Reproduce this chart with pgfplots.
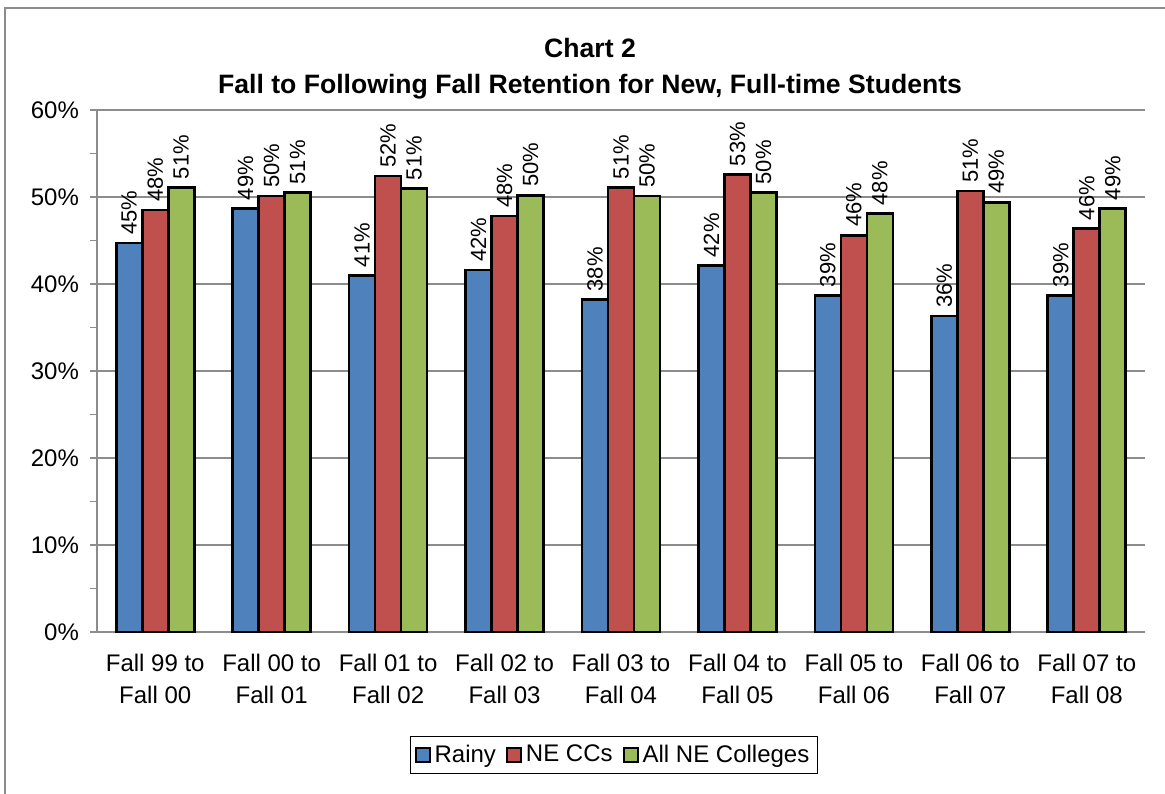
\documentclass[border=0pt]{standalone}
\usepackage{fontspec}
\setmainfont{Liberation Sans}
\usepackage{pgfplots}
\pgfplotsset{compat=1.18}
\usepackage{pgfplotstable}
\definecolor{rblue}{RGB}{79,129,189}
\definecolor{rred}{RGB}{192,80,77}
\definecolor{rgreen}{RGB}{155,187,89}
\definecolor{gridgray}{RGB}{140,140,140}

% x = category index, y = retention (%), lab = printed label
\pgfplotstableread{
x  y     lab
0  44.7  45\%
1  48.7  49\%
2  41.0  41\%
3  41.6  42\%
4  38.2  38\%
5  42.1  42\%
6  38.7  39\%
7  36.3  36\%
8  38.7  39\%
}\rainy
\pgfplotstableread{
x  y     lab
0  48.5  48\%
1  50.1  50\%
2  52.4  52\%
3  47.8  48\%
4  51.1  51\%
5  52.6  53\%
6  45.6  46\%
7  50.7  51\%
8  46.4  46\%
}\neccs
\pgfplotstableread{
x  y     lab
0  51.1  51\%
1  50.5  51\%
2  51.0  51\%
3  50.2  50\%
4  50.1  50\%
5  50.5  50\%
6  48.1  48\%
7  49.4  49\%
8  48.7  49\%
}\allne

\begin{document}
\begin{tikzpicture}
\useasboundingbox (-48.5pt,-80.5pt) rectangle (534pt,316pt);
\draw[gridgray, line width=0.8pt] (-46pt,-95pt) -- (-46pt,312pt) -- (545pt,312pt);
\begin{axis}[
  at={(0pt,0pt)}, anchor=south west,
  scale only axis, width=524pt, height=261pt,
  ybar=0pt, bar width=13pt,
  xmin=-0.5, xmax=8.5, ymin=0, ymax=60,
  axis x line*=bottom, axis y line*=left,
  axis line style={gridgray, line width=0.6pt},
  xtick={0,...,8},
  xticklabels={Fall 99 to\\Fall 00, Fall 00 to\\Fall 01, Fall 01 to\\Fall 02,
    Fall 02 to\\Fall 03, Fall 03 to\\Fall 04, Fall 04 to\\Fall 05,
    Fall 05 to\\Fall 06, Fall 06 to\\Fall 07, Fall 07 to\\Fall 08},
  x tick label style={align=center, font=\fontsize{12}{16}\selectfont, yshift=-4pt},
  major x tick style={draw=none},
  extra x ticks={-0.5,0.5,...,8.5},
  extra x tick labels={},
  extra x tick style={major tick length=4pt, tick align=outside,
    major tick style={gridgray, line width=0.6pt}, grid=none},
  ytick={0,10,...,60},
  yticklabels={0\%,10\%,20\%,30\%,40\%,50\%,60\%},
  minor ytick={5,15,...,55},
  y tick label style={font=\fontsize{12}{14}\selectfont, xshift=-2pt},
  tick align=outside, major tick length=3.5pt, minor tick length=3.5pt,
  tick style={gridgray, line width=0.6pt},
  ymajorgrids, major grid style={gridgray, line width=0.6pt},
  nodes near coords,
  point meta=explicit symbolic,
  every node near coord/.append style={rotate=90, anchor=west,
    font=\fontsize{11}{12}\selectfont, black, inner sep=0pt, xshift=3.5pt},
  legend columns=3,
  legend style={at={(0.4933,-0.2356)}, anchor=center, draw=black, line width=0.5pt,
    font=\fontsize{12}{14}\selectfont, inner sep=2pt,
    /tikz/every even column/.append style={column sep=3pt}},
  legend image code/.code={\draw[#1, line width=1pt] (0pt,-3.3pt) rectangle (7pt,3.3pt);},
]
\addplot[fill=rblue, draw=black, line width=1.3pt] table[x=x, y=y, meta=lab] {\rainy};
\addlegendentry{Rainy}
\addplot[fill=rred, draw=black, line width=1.3pt] table[x=x, y=y, meta=lab] {\neccs};
\addlegendentry{NE CCs}
\addplot[fill=rgreen, draw=black, line width=1.3pt] table[x=x, y=y, meta=lab] {\allne};
\addlegendentry{All NE Colleges}
\end{axis}
\node[font=\bfseries\fontsize{13.3}{15}\selectfont] at (246.5pt,292pt) {Chart 2};
\node[font=\bfseries\fontsize{13.3}{15}\selectfont] at (246.5pt,272.5pt) {Fall to Following Fall Retention for New, Full-time Students};
\end{tikzpicture}
\end{document}
